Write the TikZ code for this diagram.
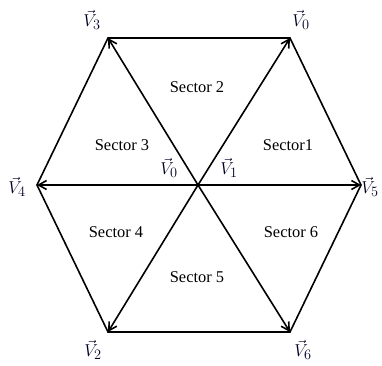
\documentclass[tikz,border=0pt]{standalone}
\usepackage{fontspec}
\setmainfont{Liberation Serif}
\usepackage{tikz}
\usetikzlibrary{arrows.meta}

\begin{document}
\begin{tikzpicture}[x=1bp,y=-1bp,>={Straight Barb[length=8pt,width=9pt]},
  vec/.style={->,line width=1.6pt},
  side/.style={line width=1.6pt},
  sect/.style={font=\fontsize{16.5}{18}\selectfont,inner sep=0pt},
  lbl/.style={font=\fontsize{19}{21}\selectfont,text=black!85!blue,inner sep=0pt}]
\useasboundingbox (0,0) rectangle (382,366);
% hexagon corners
\coordinate (o) at (198,185);
\coordinate (p0) at (290,38);
\coordinate (p3) at (108,38);
\coordinate (p4) at (37,185);
\coordinate (p5) at (361,185);
\coordinate (p2) at (108,332);
\coordinate (p6) at (290,332);
\draw[side] (p0)--(p3)--(p4)--(p2)--(p6)--(p5)--cycle;
\foreach \p in {p0,p3,p4,p5,p2,p6} \draw[vec] (o)--(\p);
% vector labels
\node[lbl] (v3) at (92,20) {$\vec{V}_3$};
\node[lbl] (v0) at (301,20) {$\vec{V}_0$};
\node[lbl] (v4) at (17,187) {$\vec{V}_4$};
\node[lbl] (v5) at (370,187) {$\vec{V}_5$};
\node[lbl] (v2) at (93,350) {$\vec{V}_2$};
\node[lbl] (v6) at (303,350) {$\vec{V}_6$};
\node[lbl] (z0) at (169,168) {$\vec{V}_0$};
\node[lbl] (z1) at (229,168) {$\vec{V}_1$};
% sectors
\node[sect] (s2) at (197,87) {Sector 2};
\node[sect] (s3) at (122,145) {Sector 3};
\node[sect] (s1) at (288,145) {Sector1};
\node[sect] (s4) at (116,232) {Sector 4};
\node[sect] (s6) at (291,232) {Sector 6};
\node[sect] (s5) at (197,277) {Sector 5};
\end{tikzpicture}
\end{document}
